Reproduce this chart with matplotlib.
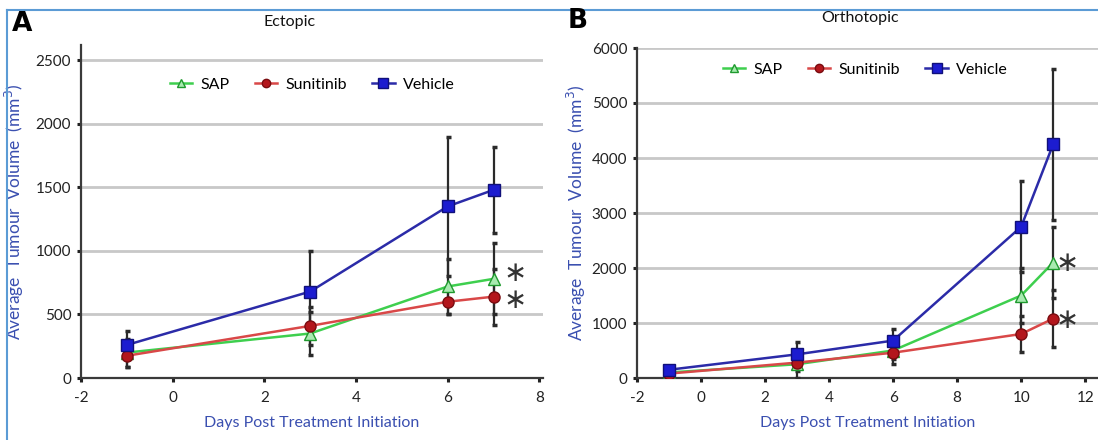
import matplotlib
matplotlib.use("Agg")
import matplotlib.pyplot as plt
from matplotlib.lines import Line2D

plt.rcParams['font.family'] = ['Lato', 'DejaVu Sans']
plt.rcParams['axes.unicode_minus'] = False
plt.rcParams['mathtext.fontset'] = 'dejavusans'

# ---- Data ----
days_a = [-1, 3, 6, 7]
sap_a = [200, 350, 720, 780]
sap_a_err = [110, 170, 220, 280]
sun_a = [175, 410, 600, 640]
sun_a_err = [90, 150, 100, 220]
veh_a = [260, 680, 1350, 1480]
veh_a_err = [110, 320, 550, 340]

days_b = [-1, 3, 6, 10, 11]
sap_b = [100, 250, 500, 1500, 2100]
sap_b_err = [40, 250, 150, 500, 650]
sun_b = [80, 280, 460, 800, 1080]
sun_b_err = [30, 150, 200, 320, 520]
veh_b = [150, 430, 680, 2750, 4250]
veh_b_err = [50, 220, 220, 830, 1370]

series_names = ["SAP", "Sunitinib", "Vehicle"]
xticks_a = [-2, 0, 2, 4, 6, 8]
yticks_a = [0, 500, 1000, 1500, 2000, 2500]
xticks_b = [-2, 0, 2, 4, 6, 8, 10, 12]
yticks_b = [0, 1000, 2000, 3000, 4000, 5000, 6000]
star_a = [830, 610]
star_b = [2090, 1060]

# ---- Styles ----
styles = {
    "SAP": dict(color="#3ecf4e", marker="^", mfc="#a8eab0", mec="#1f9a2e", ms=8),
    "Sunitinib": dict(color="#d94848", marker="o", mfc="#b3161c", mec="#7a0c10", ms=8),
    "Vehicle": dict(color="#2b2ba8", marker="s", mfc="#1c1cd0", mec="#10107a", ms=9),
}
label_blue = "#3a4fb0"

W, H = 1098, 440
fig = plt.figure(figsize=(W / 100, H / 100), dpi=100)

def px_axes(l, r, b, t):
    return fig.add_axes([l / W, 1 - b / H, (r - l) / W, (b - t) / H])

def draw(ax, days, data, errs, xlim, ylim, xticks, yticks, title, star_x, star_y,
         title_xy, legend_xy, ylabel_x):
    for name in series_names:
        ax.errorbar(days, data[name], yerr=errs[name], fmt="none", ecolor="#2a2a2a",
                    elinewidth=1.6, capsize=1.8, capthick=2.5, zorder=3)
    handles = []
    for name in series_names:
        st = styles[name]
        ax.plot(days, data[name], color=st["color"], lw=1.8, zorder=4)
        ax.plot(days, data[name], ls="none", marker=st["marker"], mfc=st["mfc"],
                mec=st["mec"], ms=st["ms"], mew=1.0, zorder=5)
        handles.append(Line2D([], [], color=st["color"], lw=1.8, marker=st["marker"],
                              mfc=st["mfc"], mec=st["mec"], ms=st["ms"] - 2))
    ax.set_xlim(*xlim)
    ax.set_ylim(*ylim)
    ax.set_xticks(xticks)
    ax.set_yticks(yticks)
    ax.grid(axis="y", color="#c8c8c8", lw=2.0, zorder=0)
    ax.set_axisbelow(True)
    for s in ["top", "right"]:
        ax.spines[s].set_visible(False)
    for s in ["left", "bottom"]:
        ax.spines[s].set_color("#3a3a3a")
        ax.spines[s].set_linewidth(1.6)
    ax.tick_params(axis="both", labelsize=11, colors="#222222", width=2.2, length=3,
                   pad=4)
    ax.tick_params(axis="x", pad=6)
    ax.set_xlabel("Days Post Treatment Initiation", color=label_blue, fontsize=11.5,
                  labelpad=8)
    ax.set_ylabel("Average  Tumour  Volume  (mm$^3$)", color=label_blue, fontsize=12.5)
    ax.yaxis.set_label_coords(ylabel_x, 0.5)
    for yy in star_y:
        ax.text(star_x, yy, r"$\ast$", fontsize=20, ha="center", va="center",
                color="#333333")
    fig.text(title_xy[0] / W, 1 - title_xy[1] / H, title, fontsize=11.5,
             ha="center", va="center", color="#111111")
    ax.legend(handles, series_names, loc="center",
              bbox_to_anchor=(legend_xy[0], legend_xy[1]), ncol=3, frameon=False,
              fontsize=11.5, handlelength=1.4, columnspacing=1.6,
              handletextpad=0.5)
    return ax

axA = px_axes(81, 543, 378, 45)
draw(axA, days_a,
     {"SAP": sap_a, "Sunitinib": sun_a, "Vehicle": veh_a},
     {"SAP": sap_a_err, "Sunitinib": sun_a_err, "Vehicle": veh_a_err},
     (-2, 8.08), (0, 2620), xticks_a, yticks_a, "Ectopic", 7.45, star_a,
     (290, 22), (0.5, 0.88), (26 - 81) / 462)

axB = px_axes(637, 1098, 378, 48)
draw(axB, days_b,
     {"SAP": sap_b, "Sunitinib": sun_b, "Vehicle": veh_b},
     {"SAP": sap_b_err, "Sunitinib": sun_b_err, "Vehicle": veh_b_err},
     (-2, 12.4), (0, 6000), xticks_b, yticks_b, "Orthotopic", 11.4, star_b,
     (860, 18), (0.495, 0.935), (588 - 637) / 461)

fig.text(12 / W, 1 - 24 / H, "A", fontsize=19, fontweight="bold", ha="left",
         va="center", family="DejaVu Sans")
fig.text(568 / W, 1 - 21 / H, "B", fontsize=19, fontweight="bold", ha="left",
         va="center", family="DejaVu Sans")

# light blue frame (top and left edges)
fig.add_artist(Line2D([7 / W, 1], [1 - 10 / H, 1 - 10 / H], color="#5b9bd5", lw=1.5,
                      transform=fig.transFigure))
fig.add_artist(Line2D([7 / W, 7 / W], [0, 1 - 10 / H], color="#5b9bd5", lw=1.5,
                      transform=fig.transFigure))

fig.savefig("out.png", dpi=100)
